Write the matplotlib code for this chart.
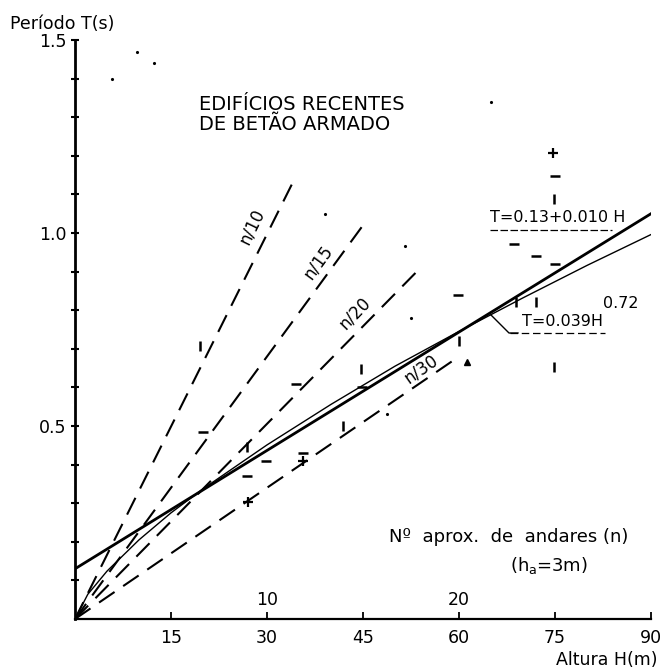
import numpy as np
import matplotlib
matplotlib.use("Agg")
import matplotlib.pyplot as plt

# ---------------- data ----------------
x_ticks = [15, 30, 45, 60, 75, 90]
y_ticks = [0.5, 1.0, 1.5]
y_minor = [0.1, 0.2, 0.3, 0.4, 0.6, 0.7, 0.8, 0.9, 1.1, 1.2, 1.3, 1.4]
storey_labels = [10, 20]          # number of storeys (h_a = 3 m)
storey_height = 3

# fitted linear law T = 0.13 + 0.010 H  (end points)
lin_H = [0, 90]
lin_T = [0.13, 1.05]

# power law T = 0.039 H^0.72
pow_H = [0, 2, 5, 10, 15, 20, 30, 40, 50, 60, 70, 80, 90]
pow_T = [0.0, 0.064, 0.124, 0.205, 0.275, 0.337, 0.451, 0.556, 0.655, 0.745, 0.832, 0.916, 0.996]

# dashed reference lines T = n/k, with end points
ref_names = ["n/10", "n/15", "n/20", "n/30"]
ref_H_end = [34, 45, 54, 60]
ref_T_end = [1.13, 1.02, 0.91, 0.68]

# measured buildings (various symbols)
hbar_H = [68.6, 72.0, 75.0, 59.8, 29.8, 26.9, 35.6, 44.8, 75.0, 20.0, 34.5]
hbar_T = [0.971, 0.94, 0.92, 0.84, 0.41, 0.37, 0.43, 0.60, 1.148, 0.485, 0.61]
vbar_H = [74.8, 68.9, 72.0, 60.0, 74.8, 19.5, 26.9, 41.9, 44.7]
vbar_T = [1.088, 0.82, 0.82, 0.72, 0.653, 0.707, 0.445, 0.50, 0.648]
plus_H = [74.7, 27.0, 35.6]
plus_T = [1.207, 0.303, 0.41]
tri_H = [61.3]
tri_T = [0.666]
dot_H = [39.0, 51.6, 52.5, 48.7, 65.0, 9.7, 12.3, 5.8]
dot_T = [1.05, 0.966, 0.78, 0.53, 1.34, 1.47, 1.44, 1.40]

# ---------------- figure ----------------
W, H = 671, 669
fig = plt.figure(figsize=(W / 100, H / 100), dpi=100)
ax = fig.add_axes([75 / W, 1 - 619 / H, 576 / W, 579 / H])
ax.set_xlim(0, 90)
ax.set_ylim(0, 1.5)
for s in ["top", "right"]:
    ax.spines[s].set_visible(False)
ax.spines["left"].set_linewidth(2.0)
ax.spines["bottom"].set_linewidth(1.6)

def px(x, y):
    return x / W, 1 - y / H

k = "black"
# reference dashed lines
for hh, tt in zip(ref_H_end, ref_T_end):
    ax.plot([0, hh], [0, tt], color=k, lw=1.5, dashes=[9, 5], solid_capstyle="butt")

# fitted lines
ax.plot(lin_H, lin_T, color=k, lw=2.0)
ax.plot(pow_H, pow_T, color=k, lw=1.0)

# markers
ax.plot(hbar_H, hbar_T, ls="none", marker="_", ms=7, mew=1.8, color=k)
ax.plot(vbar_H, vbar_T, ls="none", marker="|", ms=7, mew=1.8, color=k)
ax.plot(plus_H, plus_T, ls="none", marker="+", ms=7, mew=1.6, color=k)
ax.plot(tri_H, tri_T, ls="none", marker="^", ms=4, color=k)
ax.plot(dot_H, dot_T, ls="none", marker=".", ms=2.5, color=k)

# ticks
ax.set_xticks(x_ticks)
ax.set_xticklabels([str(v) for v in x_ticks], fontsize=12.5)
ax.tick_params(axis="x", direction="in", length=5, width=1.3, pad=7)
ax.set_yticks(y_ticks)
ax.set_yticklabels(["0.5", "1.0", "1.5"], fontsize=12.5)
ax.set_yticks(y_minor, minor=True)
ax.tick_params(axis="y", which="both", direction="inout", length=6, width=1.5, pad=3)

# storey numbers above the H axis
for n in storey_labels:
    ax.text(n * storey_height, 0.025, str(n), ha="center", va="bottom", fontsize=12.5)

# axis titles
fig.text(*px(10, 24), "Período T(s)", ha="left", va="center", fontsize=12.5)
fig.text(*px(658, 660), "Altura H(m)", ha="right", va="center", fontsize=12.5)

# title block
fig.text(*px(199, 105), "EDIFÍCIOS RECENTES", ha="left", va="center", fontsize=14)
fig.text(*px(199, 125), "DE BETÃO ARMADO", ha="left", va="center", fontsize=14)

# storey annotation
fig.text(*px(389, 537), "Nº  aprox.  de  andares (n)", ha="left", va="center", fontsize=13)
fig.text(*px(549, 565), "(h$_\\mathregular{a}$=3m)", ha="center", va="center", fontsize=13)

# formula labels
fig.text(*px(490, 218), "T=0.13+0.010 H", ha="left", va="center", fontsize=11.5)
fig.add_artist(plt.Line2D([490 / W, 612 / W], [1 - 230 / H, 1 - 230 / H],
                          color=k, lw=0.9, dashes=[6, 2]))
fig.text(*px(522, 322), "T=0.039H", ha="left", va="center", fontsize=11.5)
fig.text(*px(603, 303), "0.72", ha="left", va="center", fontsize=11.5)
fig.add_artist(plt.Line2D([510 / W, 605 / W], [1 - 333 / H, 1 - 333 / H],
                          color=k, lw=0.9, dashes=[6, 3]))
fig.add_artist(plt.Line2D([491 / W, 509 / W, 518 / W],
                          [1 - 315 / H, 1 - 333 / H, 1 - 333 / H], color=k, lw=1.0))

# labels of dashed lines
lab_pos = [(252, 226, 64), (318, 262, 54), (355, 313, 46), (421, 369, 35)]
for name, (lx, ly, rot) in zip(ref_names, lab_pos):
    fig.text(*px(lx, ly), name, ha="center", va="center", rotation=rot,
             rotation_mode="anchor", fontsize=12)

fig.savefig("out.png", dpi=100)
